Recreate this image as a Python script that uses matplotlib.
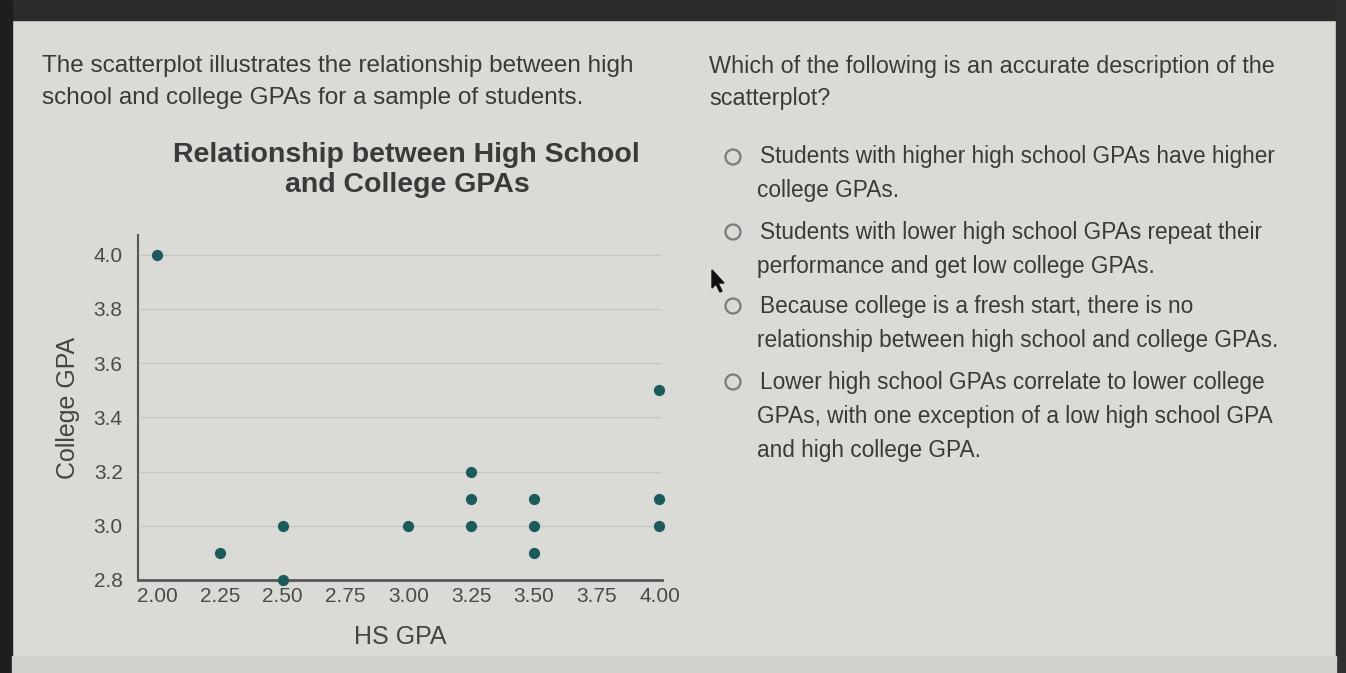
import matplotlib.pyplot as plt
from matplotlib.patches import Rectangle, Circle, Polygon

hs_gpa = [2.00, 2.25, 2.50, 2.50, 3.00, 3.25, 3.25, 3.25, 3.50, 3.50, 3.50, 4.00, 4.00, 4.00]
college_gpa = [4.0, 2.9, 3.0, 2.8, 3.0, 3.2, 3.1, 3.0, 3.1, 3.0, 2.9, 3.5, 3.1, 3.0]
x_ticks = [2.00, 2.25, 2.50, 2.75, 3.00, 3.25, 3.50, 3.75, 4.00]
y_ticks = [2.8, 3.0, 3.2, 3.4, 3.6, 3.8, 4.0]

intro = ["The scatterplot illustrates the relationship between high",
         "school and college GPAs for a sample of students."]
question = ["Which of the following is an accurate description of the",
            "scatterplot?"]
options = [
    ["Students with higher high school GPAs have higher", "college GPAs."],
    ["Students with lower high school GPAs repeat their", "performance and get low college GPAs."],
    ["Because college is a fresh start, there is no", "relationship between high school and college GPAs."],
    ["Lower high school GPAs correlate to lower college",
     "GPAs, with one exception of a low high school GPA", "and high college GPA."],
]

plt.rcParams['font.family'] = ['Liberation Sans', 'DejaVu Sans']
text_col = '#3a3a38'
page = '#dadbd6'

fig = plt.figure(figsize=(13.46, 6.73), dpi=100)
fig.patch.set_facecolor(page)

# page layer in pixel coordinates
bg = fig.add_axes([0, 0, 1, 1])
bg.set_xlim(0, 1346)
bg.set_ylim(673, 0)
bg.axis('off')
bg.add_patch(Rectangle((0, 0), 1346, 20, color='#2b2b2b'))
bg.add_patch(Rectangle((0, 0), 12, 673, color='#1e1e1e'))
bg.add_patch(Rectangle((1336, 0), 10, 673, color='#303030'))
bg.add_patch(Rectangle((12, 656), 1324, 17, color='#d0d3cd'))

for i, line in enumerate(intro):
    bg.text(42, 66 + i * 32, line, fontsize=17.5, color=text_col, va='center')
for i, line in enumerate(question):
    bg.text(709, 66 + i * 32, line, fontsize=16.8, color=text_col, va='center')

opt_y = [157, 232, 306, 382]
for y0, lines in zip(opt_y, options):
    bg.add_patch(Circle((733, y0), 7.5, fill=False, ec='#7a7a7a', lw=1.6))
    for j, line in enumerate(lines):
        x0 = 760 if j == 0 else 757
        bg.text(x0, y0 + j * 34, line, fontsize=16.3, color=text_col, va='center')

# mouse cursor
bg.add_patch(Polygon([[712, 270], [712, 288], [716, 284], [720, 292], [722, 291],
                      [718, 283], [724, 283]], closed=True, color='#111111'))

bg.text(406, 155, "Relationship between High School", fontsize=20.5, fontweight='bold',
        color=text_col, ha='center', va='center')
bg.text(407, 185, "and College GPAs", fontsize=20.5, fontweight='bold',
        color=text_col, ha='center', va='center')

ax = fig.add_axes([0.1025, 0.1382, 0.3893, 0.5126])
ax.set_facecolor('none')
ax.scatter(hs_gpa, college_gpa, s=50, color='#1d5a5c', zorder=3, clip_on=False)
ax.set_xlim(1.924, 4.01)
ax.set_ylim(2.8, 4.073)
ax.set_xticks(x_ticks)
ax.set_xticklabels([f"{v:.2f}" for v in x_ticks])
ax.set_yticks(y_ticks)
ax.set_yticklabels([f"{v:.1f}" for v in y_ticks])
ax.tick_params(length=0, labelsize=15, labelcolor='#4a4a48')
ax.tick_params(axis='y', pad=11)
ax.tick_params(axis='x', pad=5)
for yv in y_ticks[1:]:
    ax.axhline(yv, color='#c6c7c2', lw=1, zorder=1)
for side in ['top', 'right']:
    ax.spines[side].set_visible(False)
ax.spines['left'].set_color('#555555')
ax.spines['bottom'].set_color('#555555')
ax.spines['left'].set_linewidth(1.5)
ax.spines['bottom'].set_linewidth(2)
ax.set_xlabel('HS GPA', fontsize=18, color='#444442', labelpad=14)
ax.set_ylabel('College GPA', fontsize=18, color='#444442', labelpad=10)

fig.savefig('out.png', dpi=100, facecolor=fig.get_facecolor())
